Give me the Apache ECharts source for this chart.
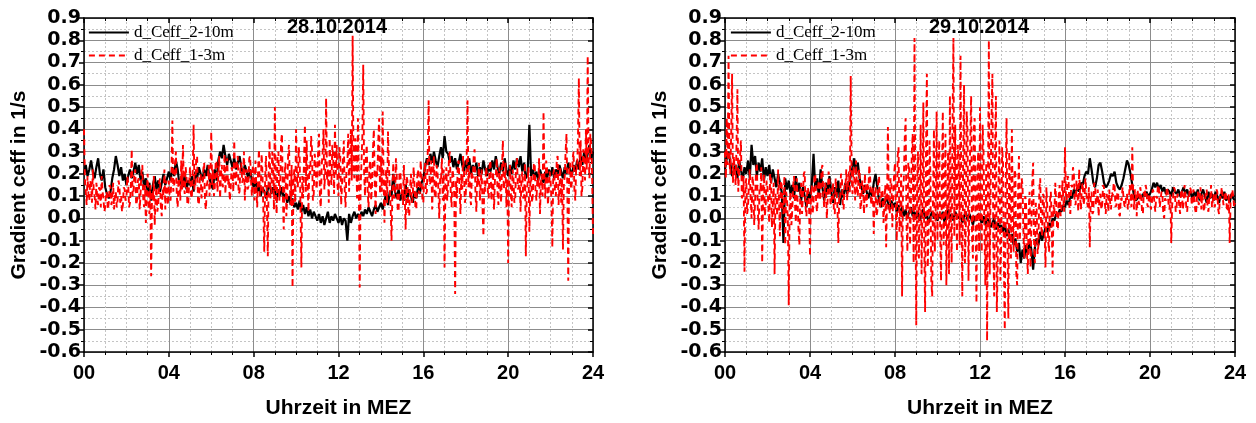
<!DOCTYPE html>
<html><head><meta charset="utf-8">
<script src="https://cdn.jsdelivr.net/npm/echarts@6/dist/echarts.min.js"></script>
<style>html,body{margin:0;padding:0;background:#fff}#c{width:1256px;height:423px}</style>
</head><body><div id="c"></div>
<script>
// sample spacing in hours: black series every 5 min, red series every 2.5 min
const BLACK_STEP_H = 5 / 60;
const RED_STEP_H = 2.5 / 60;
const xTickLabels = ['00','04','08','12','16','20','24'];
const seriesNames = ['d_Ceff_2-10m', 'd_Ceff_1-3m'];
const panelDates = ['28.10.2014', '29.10.2014'];

// 28.10.2014, d_Ceff_2-10m (one row per hour)
const black28 = [
 0.20,0.24,0.19,0.22,0.26,0.21,0.18,0.23,0.27,0.20,0.17,0.22,
 0.14,0.11,0.09,0.12,0.18,0.22,0.28,0.24,0.19,0.23,0.17,0.20,
 0.15,0.19,0.22,0.18,0.21,0.25,0.20,0.24,0.17,0.21,0.14,0.18,
 0.12,0.16,0.08,0.15,0.19,0.13,0.17,0.12,0.16,0.20,0.15,0.18,
 0.21,0.17,0.23,0.19,0.26,0.22,0.15,0.18,0.14,0.20,0.13,0.17,
 0.15,0.19,0.12,0.21,0.18,0.23,0.20,0.17,0.22,0.19,0.24,0.18,
 0.15,0.13,0.22,0.17,0.26,0.30,0.27,0.33,0.28,0.24,0.29,0.26,
 0.23,0.27,0.22,0.25,0.28,0.23,0.20,0.24,0.21,0.18,0.22,0.17,
 0.14,0.17,0.12,0.15,0.10,0.14,0.12,0.09,0.13,0.16,0.11,0.14,
 0.12,0.08,0.13,0.10,0.14,0.09,0.11,0.07,0.10,0.06,0.09,0.05,
 0.07,0.04,0.08,0.03,0.06,0.02,0.05,0.01,0.04,0.00,0.03,0.01,
 -0.01,0.02,-0.02,0.01,-0.03,0.00,0.03,-0.02,0.01,-0.01,0.02,0.00,
 -0.02,0.01,-0.03,0.00,-0.01,-0.10,0.02,-0.02,0.01,0.03,0.00,0.02,
 0.00,0.03,0.01,0.04,0.02,0.05,0.03,0.01,0.04,0.06,0.03,0.05,
 0.07,0.04,0.08,0.11,0.06,0.12,0.10,0.20,0.12,0.09,0.13,0.08,
 0.11,0.08,0.15,0.09,0.13,0.10,0.07,0.12,0.09,0.14,0.11,0.16,
 0.18,0.23,0.27,0.24,0.29,0.25,0.30,0.26,0.23,0.28,0.32,0.27,
 0.37,0.30,0.29,0.25,0.28,0.23,0.27,0.22,0.25,0.29,0.24,0.21,
 0.26,0.22,0.27,0.20,0.24,0.21,0.25,0.19,0.23,0.20,0.26,0.22,
 0.19,0.24,0.21,0.26,0.22,0.28,0.23,0.20,0.25,0.21,0.27,0.22,
 0.19,0.24,0.20,0.26,0.22,0.27,0.23,0.28,0.21,0.25,0.18,0.20,
 0.42,0.19,0.22,0.18,0.21,0.17,0.22,0.19,0.16,0.21,0.18,0.22,
 0.19,0.23,0.18,0.22,0.20,0.24,0.21,0.18,0.23,0.20,0.25,0.22,
 0.19,0.24,0.21,0.26,0.22,0.28,0.24,0.30,0.25,0.29,0.33,0.27,
 0.30
];

// 28.10.2014, d_Ceff_1-3m (one row per hour)
const red28 = [
 0.40,0.18,0.12,0.06,0.19,0.11,0.08,0.17,0.15,0.07,0.22,0.13,0.10,0.04,0.16,0.09,0.06,0.14,0.13,0.05,0.19,0.12,0.09,0.03,
 0.05,0.12,0.11,0.04,0.07,0.15,0.14,0.06,0.09,0.16,0.04,0.10,0.12,0.05,0.08,0.17,0.15,0.07,0.10,0.03,0.06,0.14,0.13,0.08,
 0.09,0.19,0.16,0.05,0.07,0.14,0.31,0.10,0.12,0.20,0.22,0.06,0.08,0.17,0.18,0.04,0.11,0.21,0.24,0.09,0.05,0.15,-0.02,0.10,
 0.20,0.07,0.02,0.15,-0.26,0.12,0.08,0.19,-0.03,0.09,0.14,0.03,0.06,0.16,0.18,0.05,0.01,0.13,0.10,0.22,0.04,0.17,0.12,0.06,
 0.17,0.09,0.08,0.21,0.44,0.12,0.14,0.24,0.30,0.10,0.05,0.18,0.16,0.08,0.26,0.13,0.33,0.15,0.11,0.23,0.19,0.06,0.07,0.16,
 0.23,0.11,0.09,0.19,0.42,0.13,0.15,0.27,0.28,0.08,0.06,0.17,0.20,0.09,0.12,0.22,0.25,0.07,0.04,0.15,0.17,0.24,0.10,0.18,
 0.39,0.15,0.22,0.10,0.14,0.25,0.26,0.12,0.19,0.28,0.09,0.20,0.24,0.14,0.16,0.29,0.11,0.21,0.27,0.15,0.18,0.08,0.13,0.23,
 0.21,0.12,0.35,0.18,0.15,0.26,0.28,0.11,0.12,0.23,0.25,0.16,0.18,0.30,0.08,0.20,0.22,0.13,0.14,0.27,0.28,0.17,0.10,0.24,
 0.19,0.08,0.26,0.14,0.05,0.22,0.31,0.10,0.12,0.29,0.20,0.03,-0.15,0.18,0.28,0.06,-0.17,0.21,0.35,0.09,0.12,0.30,0.24,0.04,
 0.50,0.13,0.02,0.27,0.30,0.08,0.15,0.34,0.38,0.11,-0.05,0.20,0.25,0.01,0.10,0.29,0.33,0.14,0.06,0.24,-0.31,0.17,0.22,0.07,
 0.40,0.18,0.14,0.32,0.28,0.05,-0.22,0.19,0.09,0.27,0.42,0.12,0.35,0.16,0.03,0.24,0.20,0.37,0.31,0.08,0.11,0.29,0.26,0.13,
 0.18,0.31,0.38,0.09,0.05,0.24,0.29,0.40,0.13,0.21,0.54,0.17,0.22,0.07,0.36,0.19,0.15,0.33,0.27,0.11,0.42,0.20,0.33,0.14,
 0.10,0.32,0.28,0.06,0.15,0.26,0.35,0.13,0.05,0.22,0.24,0.38,0.12,0.29,0.40,0.17,0.82,0.21,0.18,0.36,0.30,0.09,0.45,0.16,
 -0.31,0.14,0.25,0.37,0.69,0.20,0.10,0.28,0.33,0.12,0.05,0.23,0.26,0.08,0.15,0.31,0.40,0.17,0.02,0.22,0.19,0.35,0.45,0.11,
 0.28,0.12,0.48,0.19,-0.02,0.16,0.22,0.07,0.39,0.24,0.14,0.05,-0.10,0.13,0.25,0.09,0.10,0.27,0.18,0.04,0.03,0.20,0.21,0.11,
 0.13,0.06,0.24,0.10,-0.05,0.19,0.17,0.02,0.01,0.14,0.20,0.07,0.09,0.23,0.15,0.05,0.04,0.18,0.22,0.12,0.11,0.26,0.18,0.08,
 0.07,0.20,0.25,0.11,0.12,0.30,0.53,0.15,0.16,0.26,0.04,0.19,0.28,0.09,0.10,0.24,0.21,0.13,0.00,0.18,0.17,0.27,0.08,0.22,
 -0.22,0.16,0.23,0.08,0.14,0.27,0.30,0.12,0.05,0.22,0.19,0.10,-0.34,0.17,0.09,0.25,0.26,0.14,0.02,0.20,0.13,0.28,0.21,0.07,
 0.10,0.26,0.53,0.14,0.24,0.09,0.06,0.21,0.18,0.28,0.31,0.11,0.03,0.19,0.15,0.25,0.08,0.16,0.22,0.05,-0.08,0.17,0.12,0.23,
 0.20,0.12,0.09,0.24,0.26,0.08,0.14,0.21,0.04,0.17,0.19,0.27,0.11,0.06,0.23,0.15,0.07,0.22,0.35,0.13,0.16,0.25,0.05,0.18,
 -0.20,0.14,0.24,0.11,0.05,0.22,0.18,0.07,0.09,0.26,0.27,0.13,0.14,0.20,0.03,0.17,0.21,0.09,0.10,0.25,-0.17,0.12,0.16,0.23,
 -0.06,0.15,0.19,0.07,0.11,0.24,0.25,0.12,0.08,0.18,0.14,0.27,0.02,0.16,0.20,0.10,0.48,0.19,0.09,0.26,0.23,0.06,0.13,0.21,
 0.17,0.08,-0.13,0.20,0.22,0.12,0.10,0.27,0.28,0.06,0.14,0.23,0.07,0.18,-0.14,0.15,0.19,0.30,0.38,0.11,-0.28,0.21,0.25,0.13,
 0.16,0.27,0.30,0.12,0.08,0.24,0.22,0.36,0.63,0.19,0.35,0.10,0.14,0.31,0.26,0.17,0.40,0.22,0.73,0.28,0.18,0.38,0.33,0.20,
 -0.08
];

// 29.10.2014, d_Ceff_2-10m (one row per hour)
const black29 = [
 0.22,0.27,0.30,0.25,0.19,0.21,0.24,0.18,0.26,0.22,0.17,0.23,
 0.20,0.26,0.18,0.33,0.24,0.28,0.19,0.25,0.21,0.27,0.17,0.23,
 0.19,0.24,0.16,0.22,0.18,0.14,0.20,0.16,0.12,-0.11,0.18,0.13,
 0.17,0.11,0.15,0.09,0.19,0.12,0.16,0.08,0.14,0.10,0.05,0.12,
 0.09,0.15,0.29,0.13,0.18,0.10,0.22,0.14,0.08,0.16,0.11,0.19,
 0.12,0.07,0.14,0.10,0.17,0.06,0.13,0.09,0.16,0.11,0.15,0.19,
 0.23,0.27,0.20,0.25,0.18,0.14,0.11,0.15,0.12,0.09,0.13,0.10,
 0.16,0.20,0.14,0.08,0.05,0.09,0.06,0.10,0.07,0.04,0.08,0.05,
 0.07,0.03,0.06,0.02,0.05,0.01,0.04,0.00,0.03,0.05,0.01,0.03,
 0.00,0.03,-0.01,0.02,0.04,0.00,0.02,-0.02,0.01,0.03,0.00,0.02,
 -0.01,0.02,0.00,0.03,-0.02,0.01,0.04,0.00,0.02,-0.01,0.03,0.01,
 0.00,0.02,-0.02,0.01,0.03,-0.01,0.02,0.00,-0.03,0.01,-0.01,0.02,
 0.00,-0.02,0.01,-0.03,0.00,-0.01,-0.04,-0.02,0.00,-0.05,-0.02,-0.04,
 -0.03,-0.06,-0.02,-0.08,-0.05,-0.10,-0.07,-0.12,-0.09,-0.15,-0.11,-0.20,
 -0.14,-0.18,-0.12,-0.16,-0.10,-0.14,-0.23,-0.13,-0.09,-0.12,-0.06,-0.10,
 -0.07,-0.04,-0.06,-0.02,-0.04,0.00,-0.01,0.02,0.01,0.04,0.03,0.06,
 0.05,0.08,0.06,0.10,0.09,0.13,0.11,0.14,0.12,0.16,0.15,0.19,
 0.21,0.20,0.27,0.22,0.16,0.14,0.18,0.24,0.25,0.21,0.16,0.14,
 0.15,0.17,0.20,0.19,0.21,0.16,0.14,0.13,0.15,0.18,0.22,0.26,
 0.24,0.20,0.15,0.10,0.08,0.09,0.10,0.09,0.11,0.10,0.12,0.10,
 0.11,0.13,0.16,0.14,0.16,0.13,0.15,0.12,0.14,0.11,0.13,0.12,
 0.10,0.14,0.12,0.11,0.13,0.10,0.12,0.14,0.11,0.13,0.10,0.12,
 0.09,0.12,0.10,0.13,0.08,0.11,0.13,0.10,0.07,0.12,0.09,0.11,
 0.08,0.12,0.10,0.07,0.11,0.09,0.12,0.08,0.10,0.07,0.11,0.09,
 0.08
];

// 29.10.2014, d_Ceff_1-3m (one row per hour)
const red29 = [
 0.30,0.18,0.45,0.24,0.73,0.26,0.20,0.38,0.65,0.16,0.28,0.21,0.15,0.33,0.58,0.12,0.22,0.28,0.35,0.09,0.10,0.19,-0.24,0.14,
 0.18,0.02,0.05,0.16,0.22,0.09,0.00,0.19,0.15,-0.03,0.08,0.21,0.25,0.04,-0.05,0.13,0.12,0.23,-0.20,0.10,0.20,0.01,0.06,0.17,
 0.14,0.05,-0.02,0.20,0.18,-0.04,0.07,0.16,-0.25,0.11,0.10,0.01,0.22,0.08,-0.08,0.17,0.15,0.03,0.02,0.19,-0.12,0.12,0.09,-0.01,
 -0.39,0.06,0.12,-0.03,0.04,0.15,0.19,0.07,-0.02,0.18,0.08,-0.05,-0.12,0.11,0.16,0.02,0.10,0.20,0.21,0.05,0.01,0.14,0.13,0.04,
 -0.17,0.09,0.15,0.02,0.07,0.19,0.20,0.06,0.03,0.14,0.17,0.08,0.10,0.22,0.24,0.11,0.05,0.16,0.14,0.00,0.09,0.21,0.18,0.07,
 0.06,0.13,0.16,0.03,0.02,0.18,0.12,0.05,-0.11,0.10,0.09,0.20,0.19,0.07,0.04,0.15,0.14,0.22,0.08,0.17,0.21,0.11,0.64,0.19,
 0.11,0.23,0.18,0.08,0.26,0.14,0.10,0.21,0.22,0.04,0.07,0.17,0.15,0.02,0.20,0.12,0.05,0.16,0.13,0.24,0.18,0.06,0.09,0.14,
 -0.07,0.10,0.14,0.01,0.03,0.16,0.19,0.05,0.08,0.13,0.12,-0.02,0.06,0.15,-0.13,0.09,0.41,0.07,0.02,0.18,0.15,-0.04,0.10,0.20,
 0.25,0.02,-0.10,0.28,0.32,-0.06,0.05,0.20,-0.35,0.12,0.18,0.36,0.45,-0.02,-0.15,0.25,0.22,-0.12,0.08,0.30,0.38,-0.20,0.81,0.10,
 -0.48,0.15,0.30,-0.18,0.10,0.42,-0.25,0.05,0.52,-0.10,-0.42,0.28,0.65,-0.22,-0.05,0.35,0.20,-0.28,-0.35,0.12,0.40,-0.15,0.05,0.48,
 -0.10,0.22,0.35,-0.05,-0.28,0.18,0.48,-0.12,0.05,0.38,-0.30,0.10,0.30,-0.25,0.55,0.02,-0.20,0.44,0.81,-0.08,0.42,0.15,-0.15,0.33,
 0.25,-0.12,0.73,0.05,-0.35,0.28,0.60,-0.20,-0.05,0.48,0.38,-0.28,0.10,0.35,0.55,-0.08,-0.18,0.40,0.45,-0.02,-0.38,0.22,0.30,-0.15,
 0.50,0.05,-0.15,0.42,0.30,-0.05,-0.30,0.25,-0.55,0.12,0.80,-0.25,0.15,0.45,0.65,-0.10,-0.35,0.30,0.55,-0.42,-0.20,0.18,0.35,-0.28,
 -0.10,0.32,0.25,-0.22,-0.50,0.15,0.45,-0.08,-0.45,0.30,0.10,-0.18,0.40,0.02,-0.15,0.22,0.20,-0.25,-0.30,0.12,0.28,-0.10,0.05,0.18,
 0.15,-0.05,-0.18,0.10,0.08,-0.15,-0.25,0.04,0.12,-0.22,-0.05,0.16,0.25,-0.10,-0.20,0.07,0.05,-0.16,-0.12,0.13,0.18,-0.03,-0.08,0.11,
 0.10,-0.06,-0.22,0.14,0.05,-0.10,-0.15,0.08,0.12,-0.02,-0.25,0.06,0.02,0.16,0.08,-0.04,-0.05,0.11,0.15,0.01,0.04,0.17,0.10,0.03,
 0.32,0.11,0.08,0.19,0.18,0.05,0.02,0.15,0.14,0.23,0.20,0.07,0.06,0.17,0.12,0.03,0.22,0.10,0.04,0.14,0.16,0.06,0.09,0.18,
 0.18,0.07,0.05,0.14,-0.13,0.09,0.12,0.02,0.03,0.16,0.15,0.06,0.08,0.13,0.01,0.10,0.11,0.04,0.06,0.15,0.14,0.07,0.02,0.11,
 0.09,0.03,0.13,0.07,0.04,0.12,0.10,0.16,0.15,0.05,0.06,0.11,0.12,0.02,0.01,0.09,0.08,0.14,0.14,0.06,0.05,0.10,0.11,0.04,
 0.07,0.15,0.12,0.05,0.32,0.10,0.04,0.13,0.10,0.01,0.13,0.08,0.06,0.14,0.11,0.03,0.02,0.12,0.09,0.15,0.13,0.06,0.05,0.11,
 0.10,0.04,0.06,0.13,0.12,0.07,0.03,0.10,0.09,0.15,0.14,0.05,0.05,0.12,0.11,0.02,0.00,0.09,0.08,0.14,0.12,0.06,0.04,0.11,
 -0.11,0.06,0.09,0.14,0.13,0.03,0.05,0.11,0.10,0.06,0.02,0.13,0.12,0.04,0.07,0.15,0.11,0.05,0.03,0.10,0.09,0.14,0.13,0.07,
 0.06,0.13,0.10,0.04,0.02,0.09,0.12,0.06,0.08,0.14,0.04,0.11,0.11,0.03,0.07,0.12,0.13,0.05,0.03,0.10,0.09,0.15,0.05,0.08,
 0.11,0.05,0.07,0.13,0.12,0.04,0.02,0.10,0.09,0.14,0.14,0.06,0.06,0.12,0.10,0.03,0.04,0.11,-0.11,0.08,0.08,0.13,0.10,0.05,
 0.07
];

const SANS = 'Liberation Sans, Arial, sans-serif';
const WIDE = 'DejaVu Sans, Liberation Sans, sans-serif';
const SERIF = 'Liberation Serif, Times New Roman, serif';
const toPairs = (arr, step) => arr.map((v, i) => [i * step, v]);

const grids = [
  {left: 84, right: 663, top: 18, bottom: 71, outerBoundsMode: 'none'},
  {left: 725, right: 21, top: 18, bottom: 71, outerBoundsMode: 'none'}
];

const xAxes = [], yAxes = [];
grids.forEach((g, gi) => {
  xAxes.push({
    gridIndex: gi, type: 'value', min: 0, max: 24, interval: 4, position: 'bottom',
    axisLine: {show: true, onZero: false, lineStyle: {color: '#000', width: 1.5}},
    axisTick: {show: true, inside: false, length: 5, lineStyle: {color: '#000', width: 1.5}},
    minorTick: {show: true, splitNumber: 4, length: 3, lineStyle: {color: '#000', width: 1}},
    axisLabel: {formatter: v => xTickLabels[Math.round(v / 4)], fontFamily: SANS, fontWeight: 'bold', fontSize: 20, color: '#000', margin: 11},
    splitLine: {show: true, lineStyle: {color: '#8c8c8c', width: 1}},
    minorSplitLine: {show: true, lineStyle: {color: '#c4c4c4', width: 1, type: [2, 2]}},
    name: 'Uhrzeit in MEZ', nameLocation: 'middle', nameGap: 46,
    nameTextStyle: {fontFamily: SANS, fontWeight: 'bold', fontSize: 21, color: '#000'}
  });
  xAxes.push({
    gridIndex: gi, type: 'value', min: 0, max: 24, interval: 4, position: 'top',
    axisLine: {show: true, onZero: false, lineStyle: {color: '#000', width: 1.5}},
    axisTick: {show: true, inside: true, length: 5, lineStyle: {color: '#000', width: 1.5}},
    minorTick: {show: true, splitNumber: 4, length: 3, lineStyle: {color: '#000', width: 1}},
    axisLabel: {show: false}, splitLine: {show: false}
  });
  yAxes.push({
    gridIndex: gi, type: 'value', min: -0.6, max: 0.9, interval: 0.1, position: 'left',
    axisLine: {show: true, onZero: false, lineStyle: {color: '#000', width: 1.5}},
    axisTick: {show: true, inside: false, length: 5, lineStyle: {color: '#000', width: 1.5}},
    minorTick: {show: true, splitNumber: 2, length: 3, lineStyle: {color: '#000', width: 1}},
    axisLabel: {formatter: v => (Math.abs(v) < 1e-9 ? 0 : v).toFixed(1), fontFamily: WIDE, fontWeight: 'bold', fontSize: 19, color: '#000', margin: 3},
    splitLine: {show: true, lineStyle: {color: '#8c8c8c', width: 1}},
    minorSplitLine: {show: true, lineStyle: {color: '#c4c4c4', width: 1, type: [2, 2]}},
    name: 'Gradient ceff in 1/s', nameLocation: 'middle', nameGap: 54,
    nameTextStyle: {fontFamily: SANS, fontWeight: 'bold', fontSize: 21, color: '#000'}
  });
  yAxes.push({
    gridIndex: gi, type: 'value', min: -0.6, max: 0.9, interval: 0.1, position: 'right',
    axisLine: {show: true, onZero: false, lineStyle: {color: '#000', width: 1.5}},
    axisTick: {show: true, inside: true, length: 5, lineStyle: {color: '#000', width: 1.5}},
    minorTick: {show: true, splitNumber: 2, length: 3, lineStyle: {color: '#000', width: 1}},
    axisLabel: {show: false}, splitLine: {show: false}
  });
});

const dataSets = [[black28, red28], [black29, red29]];
const series = [];
dataSets.forEach((pair, gi) => {
  series.push({
    name: seriesNames[0], type: 'line', xAxisIndex: gi * 2, yAxisIndex: gi * 2,
    data: toPairs(pair[0], BLACK_STEP_H), symbol: 'none', showSymbol: false, clip: true,
    lineStyle: {color: '#000', width: 2.2}, itemStyle: {color: '#000'}, z: 2
  });
  series.push({
    name: seriesNames[1], type: 'line', xAxisIndex: gi * 2, yAxisIndex: gi * 2,
    data: toPairs(pair[1], RED_STEP_H), symbol: 'none', showSymbol: false, clip: true,
    lineStyle: {color: '#ff0000', width: 1.9, type: [6, 4]}, itemStyle: {color: '#ff0000'}, z: 3
  });
});

const legendBase = {
  orient: 'vertical', top: 24, itemWidth: 40, itemHeight: 17, itemGap: 6,
  data: seriesNames, selectedMode: false, padding: 0,
  itemStyle: {color: 'rgba(0,0,0,0)', borderColor: 'rgba(0,0,0,0)', borderWidth: 0},
  lineStyle: {width: 1.8},
  textStyle: {fontFamily: SERIF, fontSize: 17, color: '#000'}
};

const chart = echarts.init(document.getElementById('c'), null, {renderer: 'canvas'});
chart.setOption({
  animation: false,
  backgroundColor: '#fff',
  grid: grids,
  xAxis: xAxes,
  yAxis: yAxes,
  title: [
    {text: panelDates[0], left: 287, top: 17, padding: 0, textStyle: {fontFamily: SANS, fontWeight: 'bold', fontSize: 20, color: '#000'}},
    {text: panelDates[1], left: 929, top: 17, padding: 0, textStyle: {fontFamily: SANS, fontWeight: 'bold', fontSize: 20, color: '#000'}}
  ],
  legend: [
    Object.assign({}, legendBase, {left: 88}),
    Object.assign({}, legendBase, {left: 730})
  ],
  series: series
});
</script></body></html>
